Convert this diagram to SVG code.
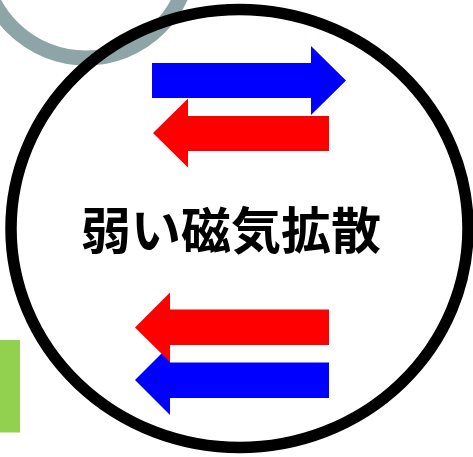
<svg xmlns="http://www.w3.org/2000/svg" width="473" height="457" viewBox="0 0 473 457">
<style>
.blue{fill:#0000FF}
.red{fill:#FF0000}
.label{font-family:"Noto Sans CJK JP","Noto Sans CJK SC",sans-serif;font-weight:bold;font-size:50px;fill:#000}
</style>
<rect width="473" height="457" fill="#FFFFFF"/>
<g id="gray-arc">
<circle cx="86" cy="-46" r="104" fill="none" stroke="#8EA5A7" stroke-width="15"/>
</g>
<g id="green-bar">
<rect x="0" y="340" width="20" height="92.5" fill="#92D050"/>
</g>
<g id="circle-node">
<ellipse cx="239.5" cy="228.5" rx="228.5" ry="219" fill="none" stroke="#000" stroke-width="11.5"/>
<text class="label" x="231" y="249" text-anchor="middle">弱い磁気拡散</text>
</g>
<g id="connectors">
<polygon class="blue" points="152,63 311,63 311,46 346,80.5 311,115 311,98 152,98"/>
<polygon class="red" points="329,116 188,116 188,98.5 153,133 188,167.5 188,151 329,151"/>
<polygon class="blue" points="329,362.5 170,362.5 170,345 135,380 170,415 170,398 329,398"/>
<polygon class="red" points="329,309.5 170,309.5 170,292.5 135,327.5 170,362 170,345 329,345"/>
</g>
</svg>
